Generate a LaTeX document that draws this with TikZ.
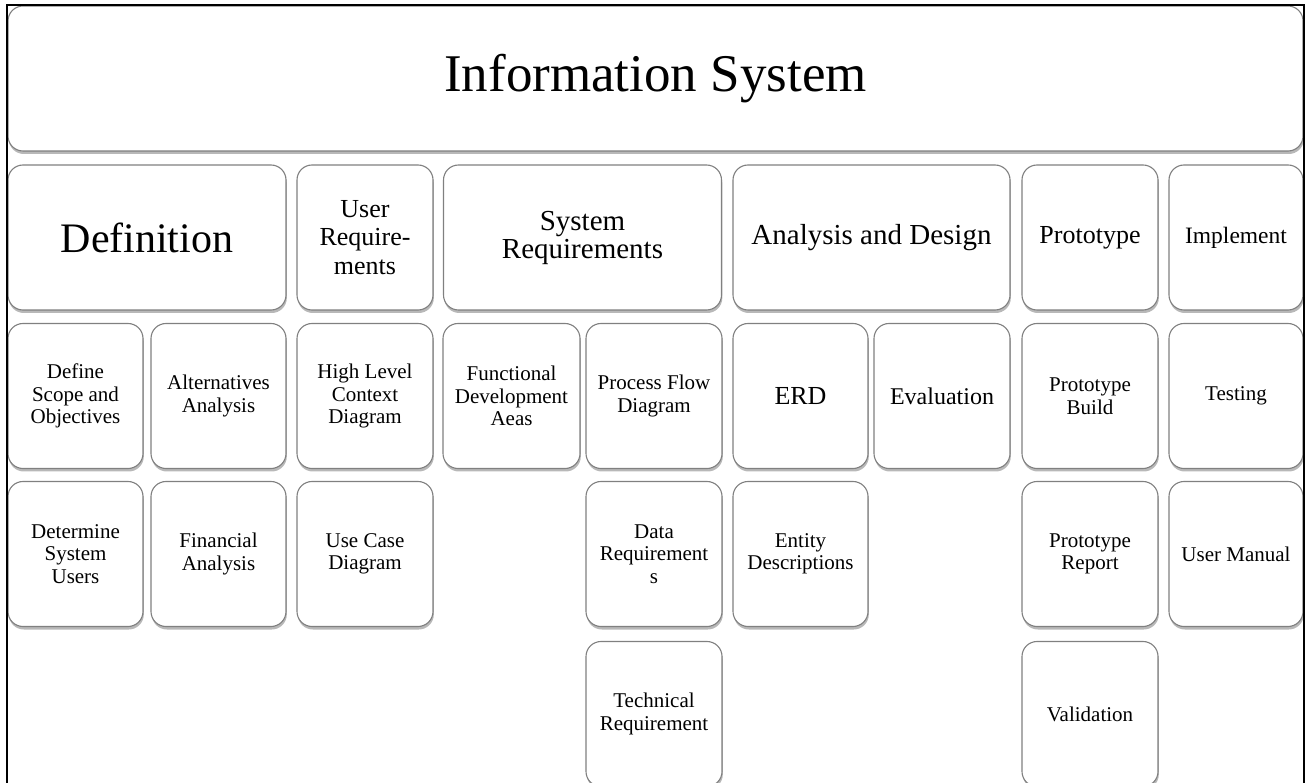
\documentclass[tikz,border=0pt]{standalone}
\usepackage{fontspec}
\setmainfont{Liberation Serif}
\usetikzlibrary{shadows}
\tikzset{
  x=1pt, y=-1pt,
  box/.style={rectangle, rounded corners=15pt, draw=black!50, line width=1.1pt, fill=white,
    inner sep=0pt, align=center, text=black,
    drop shadow={shadow xshift=0.8pt, shadow yshift=-3pt, fill=black, opacity=0.28},
    font=\fontsize{21}{22.5}\selectfont},
  sm/.style={box, minimum width=#1, minimum height=145pt},
  frameline/.style={line width=2pt, draw=black}
}
\begin{document}
\begin{tikzpicture}
\useasboundingbox (0,0) rectangle (1310,783);
\clip (0,0) rectangle (1310,783);
% top
\node[box, minimum width=1295pt, minimum height=145pt, font=\fontsize{53}{56}\selectfont] (info) at (655.5,78.5) {Information System};
% row 1
\node[sm=278pt, font=\fontsize{42}{45}\selectfont] (def) at (147,237.5) {Definition};
\node[sm=136pt, font=\fontsize{26}{28.5}\selectfont] (ureq) at (365,237.5) {User\\Require-\\ments};
\node[sm=278pt, font=\fontsize{29}{28}\selectfont] (sreq) at (582.5,237.5) {System\\Requirements};
\node[sm=277pt, font=\fontsize{29}{31}\selectfont] (ad) at (871.5,237.5) {Analysis and Design};
\node[sm=136pt, font=\fontsize{26}{28}\selectfont] (proto) at (1090,237.5) {Prototype};
\node[sm=134pt, font=\fontsize{23.5}{25}\selectfont] (impl) at (1236,237.5) {Implement};
% row 2
\node[sm=135pt] (scope) at (75.5,396) {Define\\Scope and\\Objectives};
\node[sm=135pt] (alt) at (218.5,396) {Alternatives\\Analysis};
\node[sm=136pt] (hlc) at (365,396) {High Level\\Context\\Diagram};
\node[sm=137pt] (func) at (511.5,396) {Functional\\Development\\Aeas};
\node[sm=136pt] (pfd) at (654,396) {Process Flow\\Diagram};
\node[sm=135pt, font=\fontsize{26}{28}\selectfont] (erd) at (800.5,396) {ERD};
\node[sm=136pt, font=\fontsize{24}{26}\selectfont] (eval) at (942,396) {Evaluation};
\node[sm=136pt] (pbuild) at (1090,396) {Prototype\\Build};
\node[sm=134pt] (test) at (1236,396) {Testing};
% row 3
\node[sm=135pt] (users) at (75.5,554) {Determine\\System\\Users};
\node[sm=135pt] (fin) at (218.5,554) {Financial\\Analysis};
\node[sm=136pt] (ucd) at (365,554) {Use Case\\Diagram};
\node[sm=136pt] (dreq) at (654,554) {Data\\Requirement\\s};
\node[sm=135pt] (ent) at (800.5,554) {Entity\\Descriptions};
\node[sm=136pt] (prep) at (1090,554) {Prototype\\Report};
\node[sm=134pt] (um) at (1236,554) {User Manual};
% row 4
\node[sm=136pt] (treq) at (654,714) {Technical\\Requirement};
\node[sm=136pt] (val) at (1090,714) {Validation};
% outer frame
\coordinate (fbl) at (7,800);
\coordinate (ftl) at (7,5);
\coordinate (ftr) at (1304,5);
\coordinate (fbr) at (1304,800);
\draw[frameline] (fbl) -- (ftl) -- (ftr) -- (fbr);
\end{tikzpicture}
\end{document}
